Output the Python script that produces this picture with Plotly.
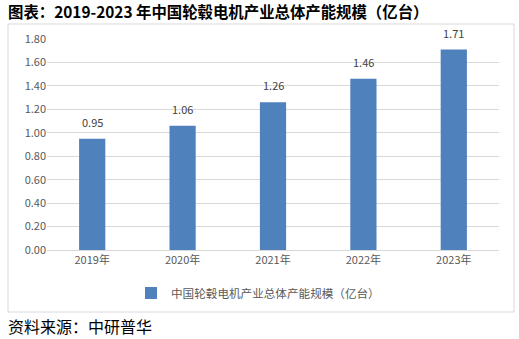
import plotly.graph_objects as go

years = ["2019年", "2020年", "2021年", "2022年", "2023年"]
capacity = [0.95, 1.06, 1.26, 1.46, 1.71]
y_ticks = [0.0, 0.2, 0.4, 0.6, 0.8, 1.0, 1.2, 1.4, 1.6, 1.8]
series_name = "中国轮毂电机产业总体产能规模（亿台）"
title_text = "图表：2019-2023 年中国轮毂电机产业总体产能规模（亿台）"
source_text = "资料来源：中研普华"

W, H = 519, 339
L, R, T, B = 47, 499, 39, 250  # plot area in pixels


def px_x(p):
    return (p - L) / (R - L)


def px_y(p):
    return (B - p) / (B - T)


font_cjk = "Noto Sans CJK SC, Microsoft YaHei, sans-serif"

fig = go.Figure()
fig.add_trace(go.Bar(
    x=years, y=capacity, name=series_name,
    marker=dict(color="#4F81BD", line=dict(width=0)),
    width=0.29,
    cliponaxis=False,
))

# value labels above each bar
value_labels = [
    dict(x=yr, y=v, xref="x", yref="y", text=f"{v:.2f}", showarrow=False,
         yanchor="bottom", yshift=7,
         font=dict(size=11, color="#404040", family=font_cjk))
    for yr, v in zip(years, capacity)
]

fig.update_layout(
    width=W, height=H,
    margin=dict(l=L, r=W - R, t=T, b=H - B),
    paper_bgcolor="white", plot_bgcolor="white",
    font=dict(family=font_cjk),
    showlegend=True,
    legend=dict(
        orientation="h", x=px_x(258), y=px_y(293), xanchor="center", yanchor="middle",
        font=dict(size=11.6, color="#595959"), itemwidth=30,
    ),
    xaxis=dict(
        showgrid=False, showline=True, linecolor="#d9d9d9", linewidth=1,
        ticks="", tickfont=dict(size=11, color="#595959"),
    ),
    yaxis=dict(
        range=[0, 1.8], tickvals=y_ticks, tickformat=".2f",
        showgrid=True, gridcolor="#d9d9d9", gridwidth=1,
        zeroline=False, showline=False, ticks="",
        tickfont=dict(size=11, color="#595959"),
    ),
    shapes=[dict(
        type="rect", xref="paper", yref="paper",
        x0=px_x(8), x1=px_x(514), y0=px_y(312), y1=px_y(24),
        line=dict(color="#d9d9d9", width=1), layer="below",
    )],
    annotations=value_labels + [
        dict(text=f"<b>{title_text}</b>", xref="paper", yref="paper",
             x=px_x(6), y=px_y(11), xanchor="left", yanchor="middle",
             showarrow=False, font=dict(size=15.4, color="#000000", family=font_cjk)),
        dict(text=source_text, xref="paper", yref="paper",
             x=px_x(6), y=px_y(326), xanchor="left", yanchor="middle",
             showarrow=False, font=dict(size=16, color="#000000", family=font_cjk)),
    ],
)

fig.write_html("out.html")
